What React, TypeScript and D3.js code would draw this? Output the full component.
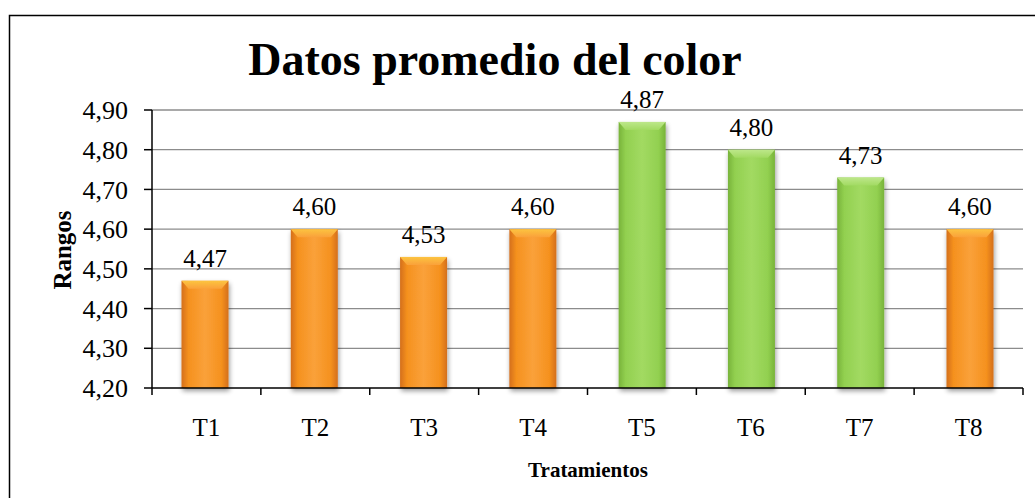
import React from "react";
import * as d3 from "d3";

const categories = ["T1", "T2", "T3", "T4", "T5", "T6", "T7", "T8"];
const values = [4.47, 4.6, 4.53, 4.6, 4.87, 4.8, 4.73, 4.6];
const groups = ["o", "o", "o", "o", "g", "g", "g", "o"];
const yTicks = [4.2, 4.3, 4.4, 4.5, 4.6, 4.7, 4.8, 4.9];
const title = "Datos promedio del color";
const yTitle = "Rangos";
const xTitle = "Tratamientos";

const W = 1035;
const H = 498;
const left = 152;
const right = 1023;
const top = 110;
const bottom = 388;

const fmt = (v: number) => v.toFixed(2).replace(".", ",");

export default function App() {
  const x = d3.scaleBand<string>().domain(categories).range([left, right]).paddingInner(0.57).paddingOuter(0.27);
  const xb = d3.scaleBand<string>().domain(categories).range([left, right]);
  const y = d3.scaleLinear().domain([4.2, 4.9]).range([bottom, top]);
  const font = "'Liberation Serif', 'Times New Roman', serif";
  const bw = x.bandwidth();
  const colors: Record<string, { edge: string; mid: string; light: string; bevel: string }> = {
    o: { edge: "#D46F1A", mid: "#F5911E", light: "#FAA13A", bevel: "#FCC440" },
    g: { edge: "#78B33A", mid: "#92D050", light: "#A2DA62", bevel: "#BDE78A" },
  };
  return (
    <div style={{ position: "absolute", left: 0, top: 0 }}>
      <svg width={W} height={H} style={{ display: "block" }}>
        <defs>
          {Object.entries(colors).map(([k, c]) => (
            <linearGradient key={k} id={`grad-${k}`} x1="0" x2="1" y1="0" y2="0">
              <stop offset="0" stopColor={c.edge} />
              <stop offset="0.15" stopColor={c.mid} />
              <stop offset="0.5" stopColor={c.light} />
              <stop offset="0.85" stopColor={c.mid} />
              <stop offset="1" stopColor={c.edge} />
            </linearGradient>
          ))}
          {Object.entries(colors).map(([k, c]) => (
            <linearGradient key={k} id={`bev-${k}`} x1="0" x2="0" y1="0" y2="1">
              <stop offset="0" stopColor={c.bevel} />
              <stop offset="1" stopColor={c.light} />
            </linearGradient>
          ))}
          <filter id="shadow" x="-30%" y="-10%" width="160%" height="130%">
            <feGaussianBlur in="SourceAlpha" stdDeviation="2.5" />
            <feOffset dx="1" dy="3" result="b" />
            <feComponentTransfer>
              <feFuncA type="linear" slope="0.4" />
            </feComponentTransfer>
            <feMerge>
              <feMergeNode />
              <feMergeNode in="SourceGraphic" />
            </feMerge>
          </filter>
        </defs>
        <rect x={9.5} y={15.5} width={W + 20} height={H + 20} fill="white" stroke="#000" strokeWidth={1.5} />
        {yTicks.slice(1).map((t) => (
          <line key={t} x1={left} x2={right} y1={y(t)} y2={y(t)} stroke="#8C8C8C" strokeWidth={1.3} />
        ))}
        {categories.map((c, i) => {
          const v = values[i];
          const x0 = x(c)!;
          const y0 = y(v);
          const h = bottom - y0;
          const g = groups[i];
          const bv = Math.min(8, h / 3);
          return (
            <g key={c} filter="url(#shadow)">
              <rect x={x0} y={y0} width={bw} height={h} fill={`url(#grad-${g})`} />
              <path
                d={`M${x0},${y0} L${x0 + bw},${y0} L${x0 + bw - 7},${y0 + bv} L${x0 + 7},${y0 + bv} Z`}
                fill={`url(#bev-${g})`}
              />
            </g>
          );
        })}
        <line x1={left} x2={left} y1={top} y2={bottom} stroke="#000" strokeWidth={1.5} />
        <line x1={left} x2={right} y1={bottom} y2={bottom} stroke="#000" strokeWidth={1.5} />
        {yTicks.map((t) => (
          <g key={t}>
            <line x1={left - 8} x2={left} y1={y(t)} y2={y(t)} stroke="#000" strokeWidth={1.5} />
            <text x={128} y={y(t)} dy="0.35em" textAnchor="end" fontFamily={font} fontSize={26}>
              {fmt(t)}
            </text>
          </g>
        ))}
        {[...categories.map((c) => xb(c)!), right].map((p, i) => (
          <line key={i} x1={p} x2={p} y1={bottom} y2={bottom + 7} stroke="#000" strokeWidth={1.5} />
        ))}
        {categories.map((c) => (
          <text key={c} x={xb(c)! + xb.bandwidth() / 2} y={436} textAnchor="middle" fontFamily={font} fontSize={25}>
            {c}
          </text>
        ))}
        {categories.map((c, i) => (
          <text key={c} x={x(c)! + bw / 2} y={y(values[i]) - 14} textAnchor="middle" fontFamily={font} fontSize={25}>
            {fmt(values[i])}
          </text>
        ))}
        <text x={495} y={75} textAnchor="middle" fontFamily={font} fontSize={46} fontWeight="bold">
          {title}
        </text>
        <text transform={`translate(71,250) rotate(-90)`} textAnchor="middle" fontFamily={font} fontSize={25} fontWeight="bold">
          {yTitle}
        </text>
        <text x={588} y={477} textAnchor="middle" fontFamily={font} fontSize={21} fontWeight="bold">
          {xTitle}
        </text>
      </svg>
    </div>
  );
}
